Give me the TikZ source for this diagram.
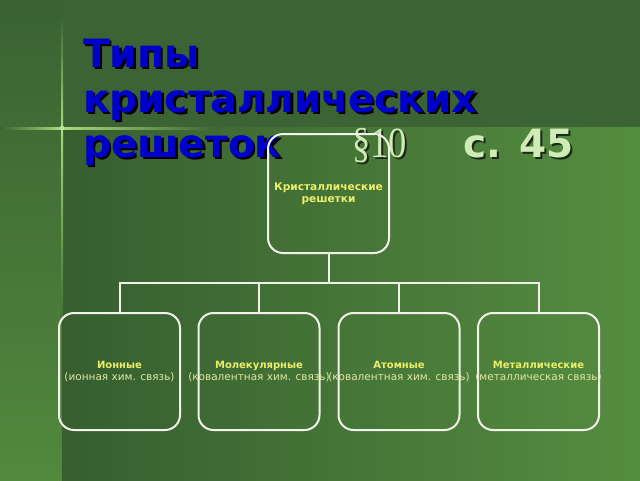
\documentclass[tikz,border=0pt]{standalone}
\usepackage{fontspec}
\setmainfont{DejaVu Sans}
\newfontfamily\serifx{Liberation Serif}
\definecolor{bandc}{HTML}{3B6334}
\definecolor{stripTop}{HTML}{3A6232}
\definecolor{stripBot}{HTML}{52893D}
\definecolor{mainL}{HTML}{365E2F}
\definecolor{mainR}{HTML}{558D40}
\definecolor{glow}{HTML}{A8DC7C}
\definecolor{titleblue}{HTML}{0000CC}
\definecolor{pagegreen}{HTML}{CFEBB6}
\definecolor{shadowc}{HTML}{1A2A14}
\definecolor{headyel}{HTML}{ECEE6A}
\definecolor{subyel}{HTML}{E0E8A2}
\definecolor{boxline}{HTML}{F2F2EA}
\tikzset{
  bigtitle/.style={anchor=base west, inner sep=0pt, font=\fontsize{39}{45}\selectfont\bfseries},
  orgbox/.style={draw=boxline, line width=2pt, rounded corners=15pt, inner sep=0pt, align=center},
  conn/.style={draw=boxline, line width=2pt},
}
% text with a drop shadow, set as one text
\newcommand{\shd}[2]{\rlap{\raisebox{-2.5pt}{\hspace*{2.5pt}\textcolor{#1}{#2}}}#2}
\newcommand{\hd}[1]{\makebox[0pt]{\textcolor{headyel}{\fontsize{10}{12}\selectfont\bfseries #1}}}
\newcommand{\hdt}[1]{\makebox[0pt]{\textcolor{headyel}{\fontsize{10.6}{12}\selectfont\bfseries #1}}}
\newcommand{\sbt}[1]{\makebox[0pt]{\textcolor{subyel}{\fontsize{10.5}{12}\selectfont #1}}}
\begin{document}
\begin{tikzpicture}[x=1pt,y=-1pt]
\useasboundingbox (0,0) rectangle (640,480);
% background
\shade[top color=stripTop, bottom color=stripBot] (0,0) rectangle (62,480);
\fill[bandc] (62,0) rectangle (640,127.5);
\shade[left color=mainL, right color=mainR] (62,127.5) rectangle (640,480);
% glow lines
\shade[left color=bandc, right color=glow] (0,127) rectangle (62,129);
\shade[left color=glow, right color=bandc] (62,127) rectangle (220,129);
\shade[top color=stripTop, bottom color=glow] (61,15) rectangle (63,128);
\shade[top color=glow, bottom color=stripTop!70!stripBot] (61,128) rectangle (63,320);
\fill[glow!60!white, opacity=0.6] (62,128) circle (2.5);
% title with shadow
\node[bigtitle, text=titleblue] (t1) at (83,67) {\shd{black}{Типы}};
\node[bigtitle, text=titleblue] (t2) at (83,112) {\shd{black}{кристаллических}};
\node[bigtitle, text=titleblue] (t3) at (83,157) {\shd{black}{решеток}};
% section and page
\node[anchor=base west, inner sep=0pt, text=pagegreen, xscale=0.85, font=\serifx\fontsize{43}{45}\selectfont] (sec) at (352,157) {\shd{shadowc}{§10}};
\node[anchor=base west, inner sep=0pt, text=pagegreen, font=\fontsize{39}{45}\selectfont\bfseries] (pg) at (463,157) {\shd{shadowc}{с. 45}};
% boxes
\node[orgbox, minimum width=121pt, minimum height=119pt] (top) at (328.5,193.5)
  {\hdt{Кристаллические}\\\hdt{решетки}};
\node[orgbox, minimum width=121pt, minimum height=117pt] (b1) at (119.5,371.5)
  {\hd{Ионные}\\\sbt{(ионная хим. связь)}};
\node[orgbox, minimum width=121pt, minimum height=117pt] (b2) at (259,371.5)
  {\hd{Молекулярные}\\\sbt{(ковалентная хим. связь)}};
\node[orgbox, minimum width=121pt, minimum height=117pt] (b3) at (399,371.5)
  {\hd{Атомные}\\\sbt{(ковалентная хим. связь)}};
\node[orgbox, minimum width=121pt, minimum height=117pt] (b4) at (538.5,371.5)
  {\hd{Металлические}\\\sbt{(металлическая связь)}};
% connectors
\path (top.south) ++(0,29) coordinate (j);
\draw[conn] (top.south) -- (j);
\draw[conn] (j) -| (b1.north);
\draw[conn] (j) -| (b2.north);
\draw[conn] (j) -| (b3.north);
\draw[conn] (j) -| (b4.north);
\end{tikzpicture}
\end{document}
